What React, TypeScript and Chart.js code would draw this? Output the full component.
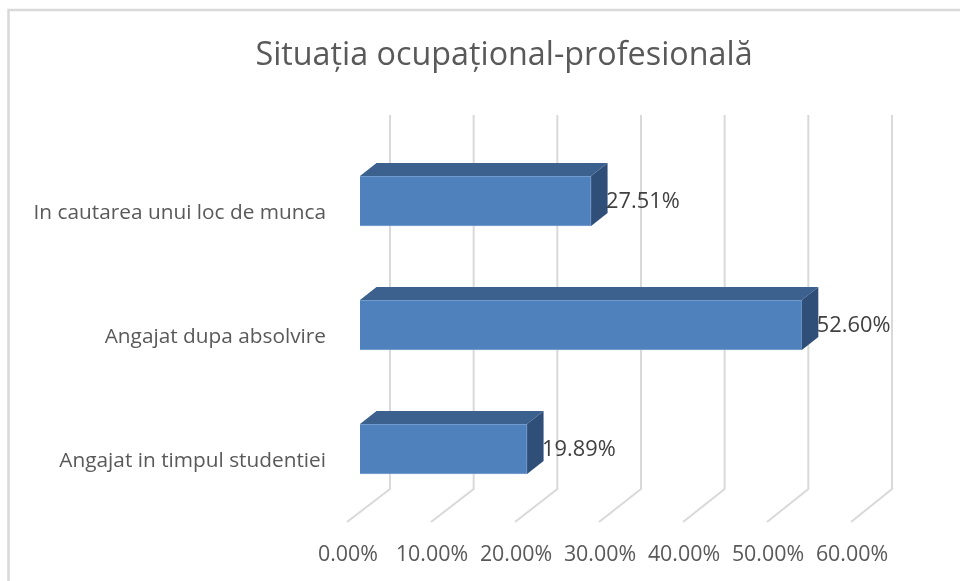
import React, { useEffect, useRef } from "react";
import { Chart, registerables } from "chart.js";

Chart.register(...registerables);

const chartTitle = "Situația ocupațional-profesională";
const categories = ["In cautarea unui loc de munca", "Angajat dupa absolvire", "Angajat in timpul studentiei"];
const shares = [27.51, 52.6, 19.89];
const FONT = '"Open Sans", sans-serif';

const pct = (v: number) => v.toFixed(2) + "%";

const depthPlugin = {
  id: "depth",
  afterLayout(chart: any) {
    // let the long category labels run past the layout padding without being clipped
    chart.scales.y.left = 0;
  },
  beforeDraw(chart: any) {
    const { ctx, width, height } = chart;
    ctx.save();
    ctx.fillStyle = "#ffffff";
    ctx.fillRect(0, 0, width, height);
    ctx.strokeStyle = "#d9d9d9";
    ctx.lineWidth = 2.5;
    ctx.beginPath();
    ctx.moveTo(8.5, height);
    ctx.lineTo(8.5, 10);
    ctx.lineTo(width, 10);
    ctx.stroke();
    ctx.restore();
  },
  beforeDatasetsDraw(chart: any) {
    const { ctx, scales } = chart;
    const x0 = scales.x.getPixelForValue(0);
    ctx.save();
    ctx.strokeStyle = "#d9d9d9";
    ctx.lineWidth = 2;
    scales.x.ticks.forEach((t: any) => {
      const px = scales.x.getPixelForValue(t.value);
      const back = x0 + 30 + (px - x0) * 0.996;
      const front = px - 13;
      ctx.beginPath();
      ctx.moveTo(back, 115);
      ctx.lineTo(back, 489);
      ctx.lineTo(front, 522);
      ctx.stroke();
    });
    ctx.restore();
  },
  afterDatasetsDraw(chart: any) {
    const { ctx } = chart;
    const dx = 16.5;
    const dy = 13;
    const meta = chart.getDatasetMeta(0);
    ctx.save();
    meta.data.forEach((bar: any, i: number) => {
      const left = bar.base;
      const right = bar.x;
      const top = bar.y - bar.height / 2;
      const bottom = bar.y + bar.height / 2;
      ctx.fillStyle = "#3c618f";
      ctx.beginPath();
      ctx.moveTo(left, top);
      ctx.lineTo(left + dx, top - dy);
      ctx.lineTo(right + dx, top - dy);
      ctx.lineTo(right, top);
      ctx.closePath();
      ctx.fill();
      ctx.fillStyle = "#304f78";
      ctx.beginPath();
      ctx.moveTo(right, top);
      ctx.lineTo(right + dx, top - dy);
      ctx.lineTo(right + dx, bottom - dy);
      ctx.lineTo(right, bottom);
      ctx.closePath();
      ctx.fill();
      ctx.fillStyle = "#404040";
      ctx.font = "21.8px " + FONT;
      ctx.textAlign = "left";
      ctx.textBaseline = "middle";
      ctx.fillText(pct(shares[i]), right + 15, bar.y + 1);
    });
    ctx.restore();
  },
};

export default function App() {
  const ref = useRef<HTMLCanvasElement | null>(null);
  useEffect(() => {
    const chart = new Chart(ref.current as HTMLCanvasElement, {
      type: "bar",
      data: {
        labels: categories,
        datasets: [
          {
            data: shares,
            backgroundColor: "#4f81bd",
            borderColor: "#7ea3d2",
            borderWidth: 1,
            barThickness: 50,
          },
        ],
      },
      options: {
        indexAxis: "y",
        animation: false,
        responsive: false,
        layout: { padding: { left: 144, right: 96, top: 0, bottom: 0 } },
        plugins: {
          legend: { display: false },
          tooltip: { enabled: false },
          title: {
            display: true,
            text: chartTitle,
            color: "#595959",
            font: { family: FONT, size: 32.3, weight: "normal", lineHeight: 1.2 },
            padding: { top: 36, bottom: 64.2 },
          },
        },
        scales: {
          x: {
            min: 0,
            max: 60,
            grid: { display: false },
            border: { display: false },
            afterFit(s: any) {
              s.height = 70;
            },
            ticks: {
              stepSize: 10,
              maxRotation: 0,
              autoSkip: false,
              labelOffset: -12,
              padding: 23,
              color: "#595959",
              font: { family: FONT, size: 21.4 },
              callback: (v: any) => pct(Number(v)),
            },
          },
          y: {
            grid: { display: false },
            border: { display: false },
            afterFit(s: any) {
              s.width = 216;
            },
            ticks: {
              padding: 26,
              labelOffset: 12,
              color: "#595959",
              font: { family: FONT, size: 20.8 },
            },
          },
        },
      } as any,
      plugins: [depthPlugin],
    });
    return () => chart.destroy();
  }, []);
  return (
    <div style={{ position: "fixed", left: 0, top: 0, width: 960, height: 581 }}>
      <canvas ref={ref} width={960} height={581} style={{ display: "block" }} />
    </div>
  );
}
